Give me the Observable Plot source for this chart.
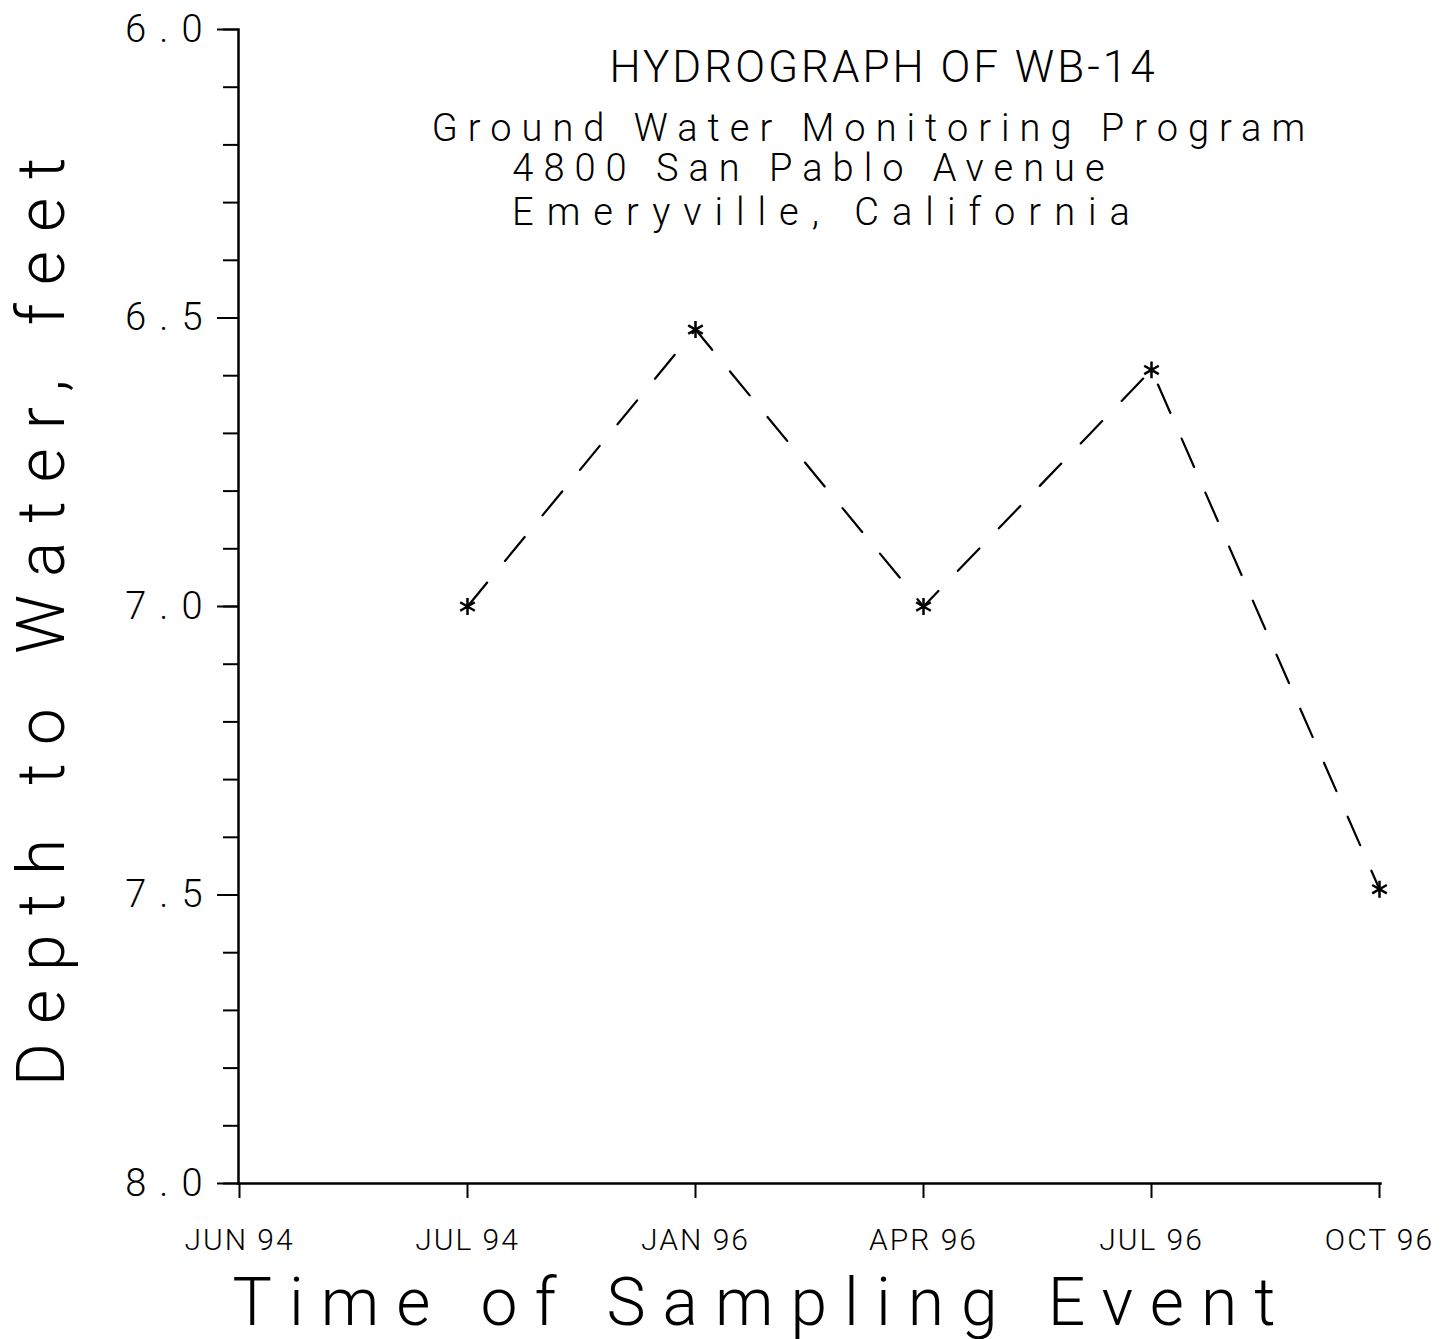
<!DOCTYPE html>
<html>
<head>
<meta charset="utf-8">
<script src="https://cdn.jsdelivr.net/npm/d3@7"></script>
<script src="https://cdn.jsdelivr.net/npm/@observablehq/plot@0.6"></script>
<style>
  html, body { margin: 0; padding: 0; background: #fff; }
  #chart svg { display: block; }
</style>
</head>
<body>
<div id="chart"></div>
<script>
// Category axis (time of sampling event)
const eventLabels = ["JUN 94", "JUL 94", "JAN 96", "APR 96", "JUL 96", "OCT 96"];
// Sampled events and depth to water (feet)
const sampleEvents = ["JUL 94", "JAN 96", "APR 96", "JUL 96", "OCT 96"];
const depthFeet = [7.0, 6.52, 7.0, 6.59, 7.49];
// Y tick labels
const yMajorTicks = [6.0, 6.5, 7.0, 7.5, 8.0];
const yMinorTicks = [6.0, 6.1, 6.2, 6.3, 6.4, 6.5, 6.6, 6.7, 6.8, 6.9, 7.0, 7.1, 7.2, 7.3, 7.4, 7.5, 7.6, 7.7, 7.8, 7.9, 8.0];
// Texts
const titleLines = ["HYDROGRAPH OF WB-14"];
const subtitleLines = ["Ground Water Monitoring Program", "4800 San Pablo Avenue", "Emeryville, California"];
const xTitle = "Time of Sampling Event";
const yTitle = "Depth to Water, feet";

const data = sampleEvents.map((e, i) => ({event: e, depth: depthFeet[i]}));

const FONT = "Roboto, 'Liberation Sans', sans-serif";

const chart = Plot.plot({
  width: 1441,
  height: 1339,
  marginLeft: 238,
  marginRight: 61,
  marginTop: 29,
  marginBottom: 156,
  style: {fontFamily: FONT, color: "black", background: "white", fontWeight: 300, overflow: "visible"},
  x: {type: "point", domain: eventLabels, padding: 0, label: null},
  y: {domain: [6, 8], reverse: true, label: null},
  marks: [
    Plot.axisY({ticks: yMinorTicks, tickSize: 15, tickFormat: () => "", label: null, strokeWidth: 2}),
    Plot.axisY({ticks: yMajorTicks, tickSize: 21, tickPadding: 2, tickFormat: d3.format(".1f"), fontSize: 38, label: null, strokeWidth: 2}),
    Plot.axisX({tickSize: 15, tickPadding: 30, fontSize: 30, label: null, strokeWidth: 2}),
    Plot.frame({anchor: "left", strokeWidth: 2.5}),
    Plot.frame({anchor: "bottom", strokeWidth: 2.5}),
    Plot.line(data, {x: "event", y: "depth", stroke: "black", strokeWidth: 2.2, strokeDasharray: "31,28"}),
    Plot.dot(data, {x: "event", y: "depth", symbol: "asterisk", r: 8, stroke: "black", strokeWidth: 2.5}),
    Plot.text(titleLines, {text: d => d, frameAnchor: "top", dx: 74, dy: 52, lineAnchor: "bottom", fontSize: 44, fill: "black"}),
    Plot.text([subtitleLines[0]], {text: d => d, frameAnchor: "top", dx: 64, dy: 111, lineAnchor: "bottom", fontSize: 38, fill: "black"}),
    Plot.text([subtitleLines[1]], {text: d => d, frameAnchor: "top", dx: 4, dy: 151, lineAnchor: "bottom", fontSize: 38, fill: "black"}),
    Plot.text([subtitleLines[2]], {text: d => d, frameAnchor: "top", dx: 18, dy: 195, lineAnchor: "bottom", fontSize: 38, fill: "black"}),
    Plot.text([xTitle], {text: d => d, frameAnchor: "bottom", dx: -47, dy: 141, lineAnchor: "bottom", fontSize: 66, fill: "black"}),
    Plot.text([yTitle], {text: d => d, frameAnchor: "left", textAnchor: "middle", dx: -196, dy: 6, rotate: -90, fontSize: 66, fill: "black"})
  ]
});

// letter spacing, mimicking the plotter lettering
const spacing = new Map([
  [titleLines[0], 3],
  [subtitleLines[0], 10], [subtitleLines[1], 10], [subtitleLines[2], 13],
  [xTitle, 17], [yTitle, 19]
]);
d3.select(chart).selectAll("text").each(function() {
  const t = this.textContent;
  if (spacing.has(t)) this.style.letterSpacing = spacing.get(t) + "px";
  if (/^\d\.\d$/.test(t)) this.style.letterSpacing = "13px";
  if (eventLabels.includes(t)) this.style.letterSpacing = "2px";
});

document.getElementById("chart").appendChild(chart);
</script>
</body>
</html>
